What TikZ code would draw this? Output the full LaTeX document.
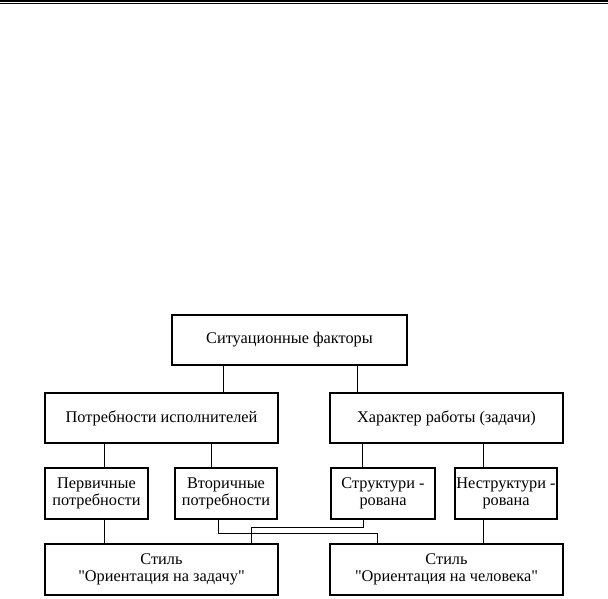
\documentclass[tikz,border=0pt]{standalone}
\usepackage{fontspec}
\setmainfont{Liberation Serif}
\begin{document}
\begin{tikzpicture}[x=1pt,y=-1pt,
  box/.style={draw=black, line width=1.1pt, fill=white, align=center, inner sep=1pt,
    font=\fontsize{16.3}{17.5}\selectfont},
  conn/.style={draw=black, line width=1pt}]
\useasboundingbox (0,0) rectangle (608,598);
% header rules
\coordinate (hl) at (0,1);
\coordinate (hr) at (608,1);
\coordinate (hl2) at (0,3.6);
\coordinate (hr2) at (608,3.6);
\draw[line width=1.6pt] (hl) -- (hr);
\draw[line width=0.7pt] (hl2) -- (hr2);
% boxes
\node[box, minimum width=235pt, minimum height=50pt] (sit) at (289.5,340) {Ситуационные факторы};
\node[box, minimum width=233pt, minimum height=50pt] (potr) at (161.5,418) {Потребности исполнителей};
\node[box, minimum width=233pt, minimum height=50pt] (har) at (446.5,418) {Характер работы (задачи)};
\node[box, minimum width=103pt, minimum height=51pt] (perv) at (96.5,493.5) {Первичные\\потребности};
\node[box, minimum width=102pt, minimum height=51pt] (vtor) at (226,493.5) {Вторичные\\потребности};
\node[box, minimum width=104pt, minimum height=51pt] (str) at (383,493.5) {Структури -\\рована};
\node[box, minimum width=102pt, minimum height=51pt] (nestr) at (506,493.5) {Неструктури -\\рована};
\node[box, minimum width=233pt, minimum height=51pt] (zad) at (161.5,569.5) {Стиль\\\textquotedbl Ориентация на задачу\textquotedbl};
\node[box, minimum width=233pt, minimum height=51pt] (chel) at (446.5,569.5) {Стиль\\\textquotedbl Ориентация на человека\textquotedbl};
% connector x positions
\coordinate (xa) at (223,0);
\coordinate (xb) at (357,0);
\coordinate (xc) at (104,0);
\coordinate (xd) at (211,0);
\coordinate (xe) at (362.5,0);
\coordinate (xf) at (483,0);
\coordinate (xg) at (218,0);
\coordinate (xh) at (377,0);
\coordinate (xi) at (251,0);
\coordinate (xj) at (363,0);
\coordinate (ylow) at (0,533.5);
\coordinate (yhigh) at (0,527);
% connectors
\draw[conn] (sit.south -| xa) -- (potr.north -| xa);
\draw[conn] (sit.south -| xb) -- (har.north -| xb);
\draw[conn] (potr.south -| xc) -- (perv.north -| xc);
\draw[conn] (potr.south -| xd) -- (vtor.north -| xd);
\draw[conn] (har.south -| xe) -- (str.north -| xe);
\draw[conn] (har.south -| xf) -- (nestr.north -| xf);
\draw[conn] (perv.south -| xc) -- (zad.north -| xc);
\draw[conn] (nestr.south -| xf) -- (chel.north -| xf);
\draw[conn] (vtor.south -| xg) -- (xg |- ylow) -- (xh |- ylow) -- (chel.north -| xh);
\draw[conn] (str.south -| xj) -- (xj |- yhigh) -- (xi |- yhigh) -- (zad.north -| xi);
\end{tikzpicture}
\end{document}
